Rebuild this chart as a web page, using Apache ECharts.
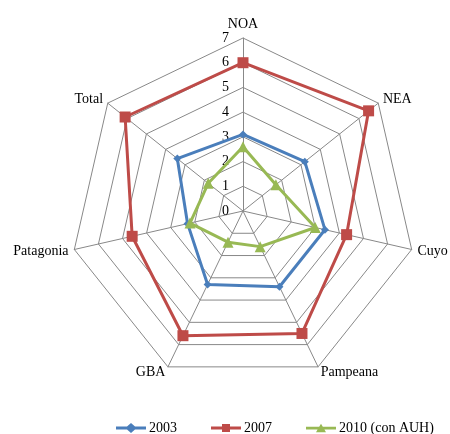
<!DOCTYPE html>
<html>
<head>
<meta charset="utf-8">
<script src="https://cdn.jsdelivr.net/npm/echarts@6/dist/echarts.min.js"></script>
<style>
html,body{margin:0;padding:0;background:#fff;}
#chart{width:450px;height:434px;}
</style>
</head>
<body>
<div id="chart"></div>
<script>
// Regions, in clockwise order starting from the top
const categories = ['NOA', 'NEA', 'Cuyo', 'Pampeana', 'GBA', 'Patagonia', 'Total'];
const seriesNames = ['2003', '2007', '2010 (con AUH)'];
const values2003 = [3.1, 3.2, 3.4, 3.4, 3.3, 2.3, 3.4];
const values2007 = [6.0, 6.5, 4.3, 5.5, 5.6, 4.6, 6.1];
const values2010 = [2.6, 1.7, 3.0, 1.6, 1.4, 2.2, 1.8];
const tickMax = 7;

const FONT = '"Liberation Serif", "DejaVu Serif", serif';
// ECharts radar goes counter-clockwise: reorder to draw clockwise
const order = [0].concat(categories.slice(1).map((_, i) => categories.length - 1 - i));
const reorder = arr => order.map(i => arr[i]);

const indicator = reorder(categories).map((name, i) => {
  const ind = { name: name, max: tickMax, min: 0 };
  if (i === 0) ind.axisLabel = { show: true };
  return ind;
});

const colors = ['#4A7EBB', '#BE4B48', '#98B954'];
const symbols = ['diamond', 'rect', 'triangle'];
const symbolSizes = [8, 11, 11];
const dataSets = [values2003, values2007, values2010];
// legend icons: line with marker in the middle
const legendIcons = [
  'path://M0 3.6 L11 3.6 L15 0 L19 3.6 L30 3.6 L30 6.4 L19 6.4 L15 10 L11 6.4 L0 6.4 Z',
  'path://M0 3.6 L11 3.6 L11 1 L19 1 L19 3.6 L30 3.6 L30 6.4 L19 6.4 L19 9 L11 9 L11 6.4 L0 6.4 Z',
  'path://M0 3.6 L13.2 3.6 L15 0.5 L16.8 3.6 L30 3.6 L30 6.4 L18.4 6.4 L20 9.2 L10 9.2 L11.6 6.4 L0 6.4 Z'
];

const chart = echarts.init(document.getElementById('chart'));
chart.setOption({
  animation: false,
  textStyle: { fontFamily: FONT },
  legend: {
    top: 416,
    left: 111,
    itemGap: 34,
    itemWidth: 30,
    itemHeight: 10,
    textStyle: { fontFamily: FONT, fontSize: 14, color: '#000', padding: [0, 0, 0, -2] },
    data: seriesNames.map((n, k) => ({ name: n, icon: legendIcons[k] }))
  },
  radar: {
    center: [243, 211],
    radius: 173,
    startAngle: 90,
    shape: 'polygon',
    splitNumber: 7,
    nameGap: 6,
    axisName: { color: '#000', fontFamily: FONT, fontSize: 14 },
    indicator: indicator,
    splitLine: { lineStyle: { color: '#888888', width: 1 } },
    splitArea: { show: false },
    axisLine: { lineStyle: { color: '#888888', width: 1 } },
    axisTick: { show: false },
    axisLabel: { show: false, color: '#000', fontFamily: FONT, fontSize: 14, showMinLabel: true, margin: 14 }
  },
  series: [{
    type: 'radar',
    data: seriesNames.map((n, k) => ({
      name: n,
      value: reorder(dataSets[k]),
      symbol: symbols[k],
      symbolSize: symbolSizes[k],
      lineStyle: { color: colors[k], width: 3 },
      itemStyle: { color: colors[k] }
    }))
  }]
});
</script>
</body>
</html>
